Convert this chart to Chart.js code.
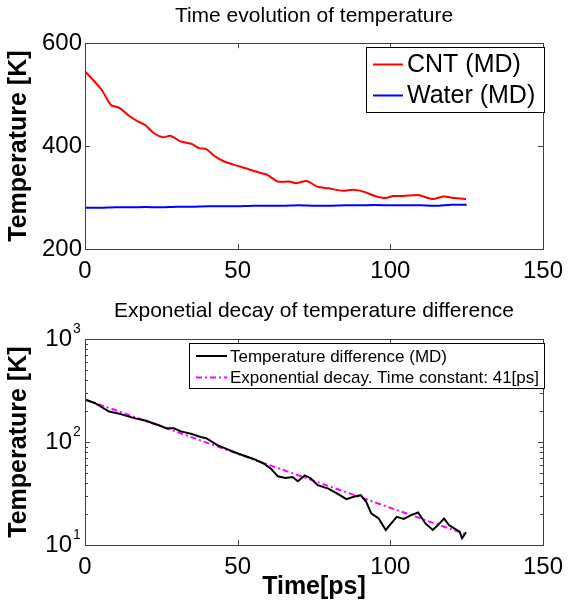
<!DOCTYPE html>
<html>
<head>
<meta charset="utf-8">
<script src="https://cdn.jsdelivr.net/npm/chart.js@4/dist/chart.umd.min.js"></script>
<style>
  body { margin: 0; background: #fff; }
  canvas { position: absolute; left: 0; }
  #top { top: 0; }
  #bottom { top: 295px; }
</style>
</head>
<body>
<canvas id="top" width="571" height="295"></canvas>
<canvas id="bottom" width="571" height="310"></canvas>
<script>
// Data
const cntTime = [0, 2.6, 5.5, 8.5, 11.4, 14.4, 17.3, 19.7, 22.6, 25.5, 27.9, 31.4, 35, 37.3, 39.7, 42.6, 45.6, 49.1, 52.6, 56.2, 59.7, 63.2, 66.8, 69.1, 72.6, 76.2, 79.7, 84.4, 87.9, 91.5, 95, 98.5, 100.9, 104.4, 109.1, 113.9, 117.4, 120.9, 124.8];
const cntTemp = [545, 529, 509, 480, 474, 459, 448, 441, 425, 417, 420, 409, 404, 396, 394, 380, 370, 363, 357, 350, 344, 331, 331, 328, 332, 321, 318, 313, 315, 311, 303, 299, 303, 303, 305, 297, 302, 299, 297];

const waterTime = [0, 5, 10, 15, 20, 25, 30, 35, 40, 45, 50, 55, 60, 65, 70, 75, 80, 85, 90, 95, 100, 105, 110, 115, 120, 125];
const waterTemp = [280, 280, 281, 281, 281.5, 281, 282, 282, 283, 283, 283, 284, 284, 284, 285, 284, 284, 285, 285, 285.5, 285, 285, 285, 284, 286, 286];

const diffTime = [0, 3.2, 7.9, 11.4, 16.1, 19.7, 24.4, 26.7, 29.1, 31.4, 35, 37.9, 39.7, 43.2, 46.7, 50.3, 55, 58.5, 60.9, 63.2, 65.6, 68, 69.7, 72, 73.8, 76.2, 79.7, 83.2, 85.6, 88, 90.3, 92.1, 93.8, 96.2, 98.5, 100.3, 102.1, 104.4, 106.8, 109.1, 111.5, 113.9, 115.6, 117.6, 119.2, 120.9, 122.7, 123.5, 124.8];
const diffTemp = [259, 240, 198, 188, 171, 162, 145, 136, 136, 127, 120, 112, 109, 94, 85, 77, 69, 62, 55, 46.5, 44.8, 45.8, 41.6, 47.5, 44.8, 38.1, 35.3, 30.9, 27.9, 29.4, 30.5, 26.3, 20.2, 18.1, 14, 16.2, 18.8, 17.9, 19.5, 20.7, 16.2, 14, 15.6, 18.1, 15.6, 14.5, 13.5, 11.6, 13.3];

const fitTime = [0, 25, 50, 75, 100, 125];
const fitTemp = [260, 142, 77, 42, 23, 12.6];

const xTicks = [0, 50, 100, 150];
const topYTicks = [200, 400, 600];
const logTicks = [10, 20, 30, 40, 50, 60, 70, 80, 90, 100, 200, 300, 400, 500, 600, 700, 800, 900, 1000];
const logExponents = { 10: '1', 100: '2', 1000: '3' };

const FONT = "'Liberation Sans', Arial, sans-serif";

function pts(xs, ys) {
    return xs.map((x, i) => ({ x: x, y: ys[i] }));
}

// MATLAB style box with inward ticks on all four sides (+ log exponents)
const boxPlugin = {
    id: 'matlabBox',
    afterDraw(chart) {
        const { ctx, chartArea: a } = chart;
        const xs = chart.scales.x, ys = chart.scales.y;
        const isLog = ys.type === 'logarithmic';
        ctx.save();
        ctx.strokeStyle = '#404040';
        ctx.lineWidth = 1;
        ctx.strokeRect(Math.round(a.left) + 0.5, Math.round(a.top) + 0.5,
            Math.round(a.right - a.left), Math.round(a.bottom - a.top));
        ctx.beginPath();
        xs.ticks.forEach(t => {
            const px = Math.round(xs.getPixelForValue(t.value)) + 0.5;
            ctx.moveTo(px, a.bottom); ctx.lineTo(px, a.bottom - 5);
            ctx.moveTo(px, a.top); ctx.lineTo(px, a.top + 5);
        });
        ys.ticks.forEach(t => {
            const py = Math.round(ys.getPixelForValue(t.value)) + 0.5;
            const len = (isLog && !logExponents[t.value]) ? 3 : 5;
            ctx.moveTo(a.left, py); ctx.lineTo(a.left + len, py);
            ctx.moveTo(a.right, py); ctx.lineTo(a.right - len, py);
        });
        ctx.stroke();
        if (isLog) {
            ctx.fillStyle = '#000';
            ctx.font = '14px ' + FONT;
            ctx.textAlign = 'left';
            ctx.textBaseline = 'alphabetic';
            ys.ticks.forEach(t => {
                const e = logExponents[t.value];
                if (!e) return;
                ctx.fillText(e, a.left - 12, ys.getPixelForValue(t.value) - 6);
            });
        }
        ctx.restore();
    }
};

// Legend drawn as a bordered box inside the plot area
const boxLegend = {
    id: 'boxLegend',
    afterDraw(chart, args, o) {
        const { ctx } = chart;
        ctx.save();
        ctx.fillStyle = '#fff';
        ctx.fillRect(o.x, o.y, o.w, o.h);
        ctx.strokeStyle = '#000';
        ctx.lineWidth = 1;
        ctx.strokeRect(o.x + 0.5, o.y + 0.5, o.w, o.h);
        ctx.font = o.size + 'px ' + FONT;
        ctx.textBaseline = 'middle';
        chart.data.datasets.forEach((ds, i) => {
            const y = o.row0 + i * o.step;
            ctx.beginPath();
            ctx.strokeStyle = ds.borderColor;
            ctx.lineWidth = ds.borderWidth;
            ctx.setLineDash(ds.borderDash || []);
            ctx.moveTo(o.lx1, y); ctx.lineTo(o.lx2, y);
            ctx.stroke();
            ctx.setLineDash([]);
            ctx.fillStyle = '#000';
            ctx.fillText(ds.label, o.tx, y + 1);
        });
        ctx.restore();
    }
};

function baseOptions(titleText, titleBottom, xHeight, xTitle) {
    return {
        responsive: false,
        animation: false,
        layout: { padding: { left: 0, right: 22, top: 0, bottom: 0 } },
        plugins: {
            legend: { display: false },
            tooltip: { enabled: false },
            title: {
                display: true,
                fullSize: false,
                text: titleText,
                color: '#000',
                font: { family: FONT, size: 21, weight: 'normal', lineHeight: 1.2 },
                padding: { top: 4, bottom: titleBottom }
            }
        },
        scales: {
            x: {
                type: 'linear',
                min: 0,
                max: 150,
                afterBuildTicks: s => { s.ticks = xTicks.map(v => ({ value: v })); },
                afterFit: s => { s.height = xHeight; },
                grid: { display: false, drawTicks: false },
                border: { display: false },
                ticks: { color: '#000', padding: 8, autoSkip: false, maxRotation: 0, font: { family: FONT, size: 24 } },
                title: {
                    display: !!xTitle,
                    text: xTitle || '',
                    color: '#000',
                    font: { family: FONT, size: 25, weight: 'bold', lineHeight: 1.2 },
                    padding: { top: 0, bottom: 3 }
                }
            },
            y: {
                afterFit: s => { s.width = 85; },
                grid: { display: false, drawTicks: false },
                border: { display: false },
                ticks: { color: '#000', padding: 3, autoSkip: false, font: { family: FONT, size: 24 } },
                title: {
                    display: true,
                    text: 'Temperature [K]',
                    color: '#000',
                    font: { family: FONT, size: 25, weight: 'bold', lineHeight: 1.2 },
                    padding: { top: 4, bottom: 0 }
                }
            }
        }
    };
}

// Top chart: temperatures
const topOpts = baseOptions('Time evolution of temperature', 14, 46, null);
topOpts.scales.y.type = 'linear';
topOpts.scales.y.min = 200;
topOpts.scales.y.max = 600;
topOpts.scales.y.afterBuildTicks = s => { s.ticks = topYTicks.map(v => ({ value: v })); };
topOpts.plugins.boxLegend = { x: 366, y: 47, w: 178, h: 65, size: 25, row0: 64.5, step: 31, lx1: 373, lx2: 403, tx: 407 };

new Chart(document.getElementById('top'), {
    type: 'line',
    data: {
        datasets: [
            { label: 'CNT (MD)', data: pts(cntTime, cntTemp), borderColor: '#ff0000', borderWidth: 2, pointRadius: 0, tension: 0.2 },
            { label: 'Water (MD)', data: pts(waterTime, waterTemp), borderColor: '#0000ff', borderWidth: 2, pointRadius: 0, tension: 0.2 }
        ]
    },
    options: topOpts,
    plugins: [boxPlugin, boxLegend]
});

// Bottom chart: temperature difference on a log axis
const botOpts = baseOptions('Exponetial decay of temperature difference', 15, 60, 'Time[ps]');
botOpts.scales.y.type = 'logarithmic';
botOpts.scales.y.min = 10;
botOpts.scales.y.max = 1000;
botOpts.scales.y.afterBuildTicks = s => { s.ticks = logTicks.map(v => ({ value: v })); };
botOpts.scales.y.ticks.callback = v => (logExponents[v] ? '10' : '');
botOpts.scales.y.ticks.padding = 13;
botOpts.plugins.boxLegend = { x: 189, y: 48, w: 355, h: 45, size: 17, row0: 61, step: 21.5, lx1: 196, lx2: 227, tx: 230 };

new Chart(document.getElementById('bottom'), {
    type: 'line',
    data: {
        datasets: [
            { label: 'Temperature difference (MD)', data: pts(diffTime, diffTemp), borderColor: '#000000', borderWidth: 2, pointRadius: 0, tension: 0 },
            { label: 'Exponential decay. Time constant: 41[ps]', data: pts(fitTime, fitTemp), borderColor: '#ff00ff', borderWidth: 2, borderDash: [6, 3, 2, 3], pointRadius: 0, tension: 0 }
        ]
    },
    options: botOpts,
    plugins: [boxPlugin, boxLegend]
});
</script>
</body>
</html>
